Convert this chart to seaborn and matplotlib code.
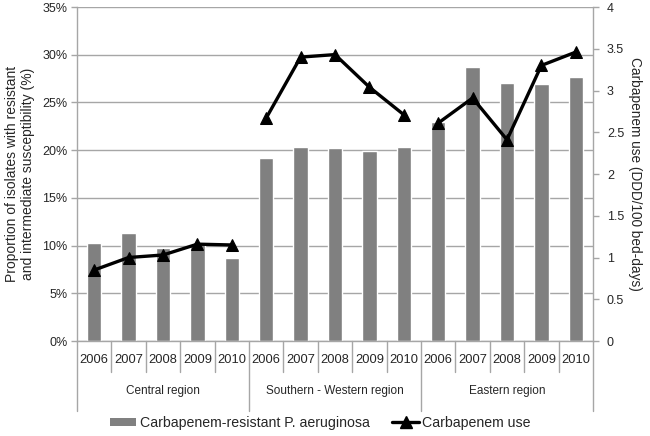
import matplotlib
matplotlib.use('Agg')
import matplotlib.pyplot as plt
import matplotlib.transforms as mtransforms
from matplotlib.patches import Patch
from matplotlib.lines import Line2D
import seaborn as sns
import pandas as pd

# data
regions = ['Central region', 'Southern - Western region', 'Eastern region']
years = ['2006', '2007', '2008', '2009', '2010']
resistant_pct = [10.3, 11.3, 9.7, 10.2, 8.7,
                 19.2, 20.3, 20.2, 19.9, 20.3,
                 23.0, 28.7, 27.0, 26.9, 27.7]
carbapenem_use = [0.85, 1.00, 1.03, 1.16, 1.15,
                  2.67, 3.40, 3.43, 3.04, 2.71,
                  2.61, 2.91, 2.41, 3.30, 3.46]

df = pd.DataFrame({
    'pos': range(len(resistant_pct)),
    'region': [r for r in regions for _ in years],
    'year': years * len(regions),
    'resistant': resistant_pct,
    'use': carbapenem_use,
})

sns.set_style('white')
plt.rcParams['font.family'] = ['Liberation Sans', 'DejaVu Sans']

grey_line = '#a6a6a6'
bar_color = '#808080'

fig = plt.figure(figsize=(6.5, 4.36), dpi=100)
ax = fig.add_axes([77 / 650, 95 / 436, 516 / 650, 334 / 436])

sns.barplot(data=df, x='pos', y='resistant', color=bar_color, width=0.42,
            saturation=1, ax=ax)
ax.set_xlim(-0.5, 14.5)
ax.set_ylim(0, 35)
ax.set_yticks(range(0, 36, 5))
ax.set_yticklabels([f'{v}%' for v in range(0, 36, 5)], fontsize=9)
ax.yaxis.grid(True, color=grey_line, linewidth=1)
ax.set_axisbelow(True)
ax.set_xticks(df['pos'])
ax.set_xticklabels(df['year'], fontsize=9.3)
ax.tick_params(axis='x', length=0, pad=9)
ax.tick_params(axis='y', length=4, width=1, color=grey_line, direction='out', pad=3)
ax.set_xlabel('')
ax.set_ylabel('Proportion of isolates with resistant\nand intermediate susceptibility (%)',
              fontsize=10, labelpad=5, linespacing=1.2)
for s in ['top', 'right']:
    ax.spines[s].set_visible(False)
for s in ['left', 'bottom']:
    ax.spines[s].set_color(grey_line)
    ax.spines[s].set_linewidth(1)

# category separators below the axis
trans = mtransforms.blended_transform_factory(ax.transData, ax.transAxes)
for i in range(len(df) + 1):
    x = i - 0.5
    bottom = -0.21 if i % len(years) == 0 else -0.093
    ax.add_line(Line2D([x, x], [0, bottom], transform=trans, color=grey_line,
                       linewidth=1, clip_on=False))
for k, r in enumerate(regions):
    ax.text(k * len(years) + 2, -0.15, r, transform=trans, ha='center',
            va='center', fontsize=8.5)

ax2 = ax.twinx()
sns.lineplot(data=df, x='pos', y='use', units='region', estimator=None,
             color='black', linewidth=2.4, marker='^', markersize=9,
             markeredgecolor='black', ax=ax2)
ax2.set_xlim(-0.5, 14.5)
ax2.set_ylim(0, 4)
ax2.set_yticks([0, 0.5, 1, 1.5, 2, 2.5, 3, 3.5, 4])
ax2.set_yticklabels(['0', '0.5', '1', '1.5', '2', '2.5', '3', '3.5', '4'], fontsize=9)
ax2.tick_params(axis='y', length=4, width=1, color=grey_line, direction='out', pad=6)
ax2.set_ylabel('Carbapenem use (DDD/100 bed-days)', rotation=270, fontsize=9.8,
               labelpad=13)
ax2.set_xlabel('')
for s in ['top', 'left', 'bottom']:
    ax2.spines[s].set_visible(False)
ax2.spines['right'].set_color(grey_line)
ax2.spines['right'].set_linewidth(1)

handles = [Patch(facecolor=bar_color, edgecolor='none'),
           Line2D([], [], color='black', linewidth=2.4, marker='^', markersize=8)]
fig.legend(handles, ['Carbapenem-resistant P. aeruginosa', 'Carbapenem use'],
           loc='center', bbox_to_anchor=(0.493, 0.03), ncol=2, frameon=False,
           fontsize=10.2, handlelength=1.85, handleheight=0.5, handletextpad=0.25,
           columnspacing=1.6)

fig.savefig('out.png', dpi=100)
